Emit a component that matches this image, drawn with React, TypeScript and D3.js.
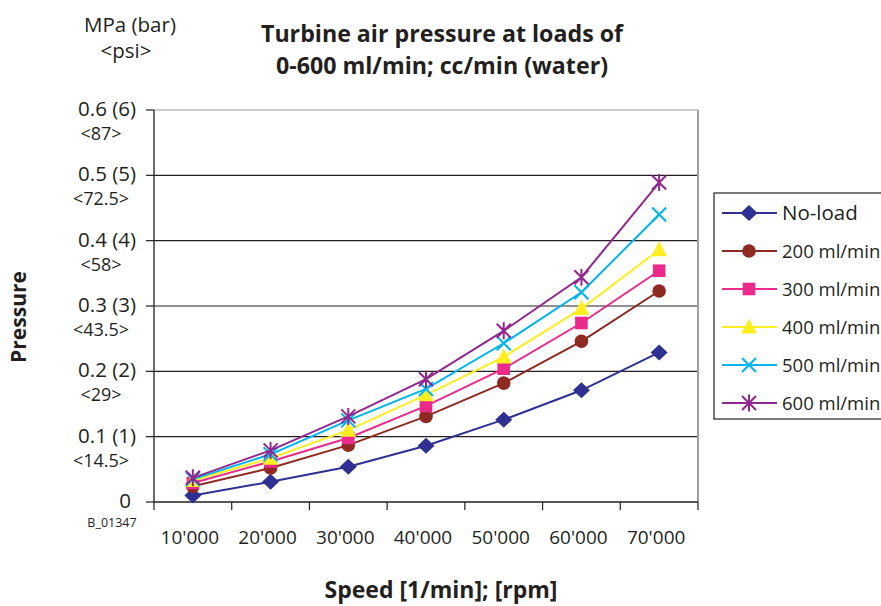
import React from "react";
import * as d3 from "d3";

const categories = ["10'000", "20'000", "30'000", "40'000", "50'000", "60'000", "70'000"];
const seriesNames = ["No-load", "200 ml/min", "300 ml/min", "400 ml/min", "500 ml/min", "600 ml/min"];
const noLoad = [0.010, 0.031, 0.054, 0.086, 0.126, 0.171, 0.229];
const load200 = [0.024, 0.052, 0.087, 0.131, 0.182, 0.246, 0.323];
const load300 = [0.029, 0.062, 0.098, 0.147, 0.204, 0.274, 0.354];
const load400 = [0.033, 0.067, 0.110, 0.164, 0.222, 0.296, 0.386];
const load500 = [0.035, 0.073, 0.125, 0.173, 0.243, 0.321, 0.440];
const load600 = [0.037, 0.079, 0.131, 0.188, 0.262, 0.344, 0.489];
const yTicks = [0, 0.1, 0.2, 0.3, 0.4, 0.5, 0.6];
const yTickLabels = ["0", "0.1 (1)", "0.2 (2)", "0.3 (3)", "0.4 (4)", "0.5 (5)", "0.6 (6)"];
const psiLabels = ["", "<14.5>", "<29>", "<43.5>", "<58>", "<72.5>", "<87>"];

const seriesData = [noLoad, load200, load300, load400, load500, load600];
const colors = ["#2e3192", "#8e2a22", "#ec2a8b", "#fcee21", "#00b5ef", "#92278f"];
const markers = ["diamond", "circle", "square", "triangle", "x", "asterisk"];

const FONT = "'Open Sans', sans-serif";
const TEXT = "#231f20";

function Marker({ type, x, y, color }: { type: string; x: number; y: number; color: string }) {
  switch (type) {
    case "diamond":
      return <path d={`M${x},${y - 8}L${x + 8.5},${y}L${x},${y + 8}L${x - 8.5},${y}Z`} fill={color} />;
    case "circle":
      return <circle cx={x} cy={y} r={6.8} fill={color} />;
    case "square":
      return <rect x={x - 6.3} y={y - 6.3} width={12.6} height={12.6} fill={color} />;
    case "triangle":
      return <path d={`M${x},${y - 8.5}L${x + 8},${y + 6.5}L${x - 8},${y + 6.5}Z`} fill={color} />;
    case "x":
      return (
        <path
          d={`M${x - 7},${y - 7}L${x + 7},${y + 7}M${x - 7},${y + 7}L${x + 7},${y - 7}`}
          stroke={color}
          strokeWidth={2}
        />
      );
    case "asterisk":
      return (
        <path
          d={`M${x - 7},${y - 7}L${x + 7},${y + 7}M${x - 7},${y + 7}L${x + 7},${y - 7}M${x},${y - 8.5}L${x},${y + 8.5}`}
          stroke={color}
          strokeWidth={2}
        />
      );
    default:
      return null;
  }
}

export default function App() {
  const width = 881;
  const height = 606;
  const left = 154;
  const right = 698;
  const top = 110;
  const bottom = 502;

  const x = d3.scaleBand<string>().domain(categories).range([left, right]).padding(0);
  const y = d3.scaleLinear().domain([0, 0.6]).range([bottom, top]);
  const cx = (c: string) => (x(c) as number) + x.bandwidth() / 2;

  const line = d3
    .line<number>()
    .x((_, i) => cx(categories[i]))
    .y((v) => y(v));

  const legendX = 714;
  const legendY0 = 213;
  const legendStep = 38;

  return (
    <svg
      width={width}
      height={height}
      style={{ position: "absolute", left: 0, top: 0, background: "#fff" }}
      fontFamily={FONT}
    >
      {/* unit header */}
      <text x={130} y={32} textAnchor="middle" fontSize={20.5} fill={TEXT}>
        MPa (bar)
      </text>
      <text x={126} y={58} textAnchor="middle" fontSize={20.5} fill={TEXT}>
        {"<psi>"}
      </text>

      {/* title */}
      <text x={442} y={42} textAnchor="middle" fontSize={23.2} fontWeight="bold" fill={TEXT}>
        Turbine air pressure at loads of
      </text>
      <text x={442} y={74} textAnchor="middle" fontSize={23.2} fontWeight="bold" fill={TEXT}>
        0-600 ml/min; cc/min (water)
      </text>

      {/* gridlines */}
      {yTicks.map((t, i) =>
        t === 0 ? null : (
          <line
            key={"g" + i}
            x1={left}
            x2={right}
            y1={y(t)}
            y2={y(t)}
            stroke={t === 0.6 ? "#9a9a9a" : "#231f20"}
            strokeWidth={1.2}
          />
        )
      )}
      {/* right border */}
      <line x1={right} x2={right} y1={top} y2={bottom} stroke="#a0a0a0" strokeWidth={2} />

      {/* y axis */}
      <line x1={left} x2={left} y1={top} y2={bottom} stroke="#3a3a3a" strokeWidth={1.5} />
      {yTicks.map((t, i) => (
        <g key={"yt" + i}>
          <line x1={left - 8} x2={left} y1={y(t)} y2={y(t)} stroke="#231f20" strokeWidth={1.2} />
          <text x={t === 0 ? 131 : 136} y={y(t) + 6} textAnchor="end" fontSize={20.5} fill={TEXT}>
            {yTickLabels[i]}
          </text>
          {psiLabels[i] && (
            <text x={101} y={y(t) + 30} textAnchor="middle" fontSize={18} fill={TEXT}>
              {psiLabels[i]}
            </text>
          )}
        </g>
      ))}

      {/* x axis */}
      <line x1={left} x2={right} y1={bottom} y2={bottom} stroke="#231f20" strokeWidth={1.5} />
      {categories.map((c, i) => (
        <line key={"xt" + i} x1={x(c) as number} x2={x(c) as number} y1={bottom} y2={bottom + 8} stroke="#231f20" strokeWidth={1.2} />
      ))}
      <line x1={right} x2={right} y1={bottom} y2={bottom + 8} stroke="#231f20" strokeWidth={1.2} />
      {categories.map((c, i) => (
        <text key={"xl" + i} x={cx(c) - 3} y={544} textAnchor="middle" fontSize={19} fill={TEXT}>
          {c}
        </text>
      ))}
      <text x={112} y={527} textAnchor="middle" fontSize={12.5} fill={TEXT}>
        B_01347
      </text>

      {/* series */}
      {seriesData.map((s, si) => (
        <g key={"s" + si}>
          <path d={line(s) as string} fill="none" stroke={colors[si]} strokeWidth={2} />
          {s.map((v, i) => (
            <Marker key={i} type={markers[si]} x={cx(categories[i])} y={y(v)} color={colors[si]} />
          ))}
        </g>
      ))}

      {/* axis titles */}
      <text x={441} y={598} textAnchor="middle" fontSize={23} fontWeight="bold" fill={TEXT}>
        Speed [1/min]; [rpm]
      </text>
      <text
        transform="translate(26,317) rotate(-90)"
        textAnchor="middle"
        fontSize={21}
        fontWeight="bold"
        fill={TEXT}
      >
        Pressure
      </text>

      {/* legend */}
      <rect x={legendX} y={193} width={200} height={226} fill="#fff" stroke="#231f20" strokeWidth={1.2} />
      {seriesNames.map((n, i) => {
        const ly = legendY0 + i * legendStep;
        return (
          <g key={"l" + i}>
            <line x1={722} x2={777} y1={ly} y2={ly} stroke={colors[i]} strokeWidth={2} />
            <Marker type={markers[i]} x={749} y={ly} color={colors[i]} />
            <text x={782} y={ly + 6.5} fontSize={i === 0 ? 20.5 : 18.5} fill={TEXT}>
              {n}
            </text>
          </g>
        );
      })}
    </svg>
  );
}
